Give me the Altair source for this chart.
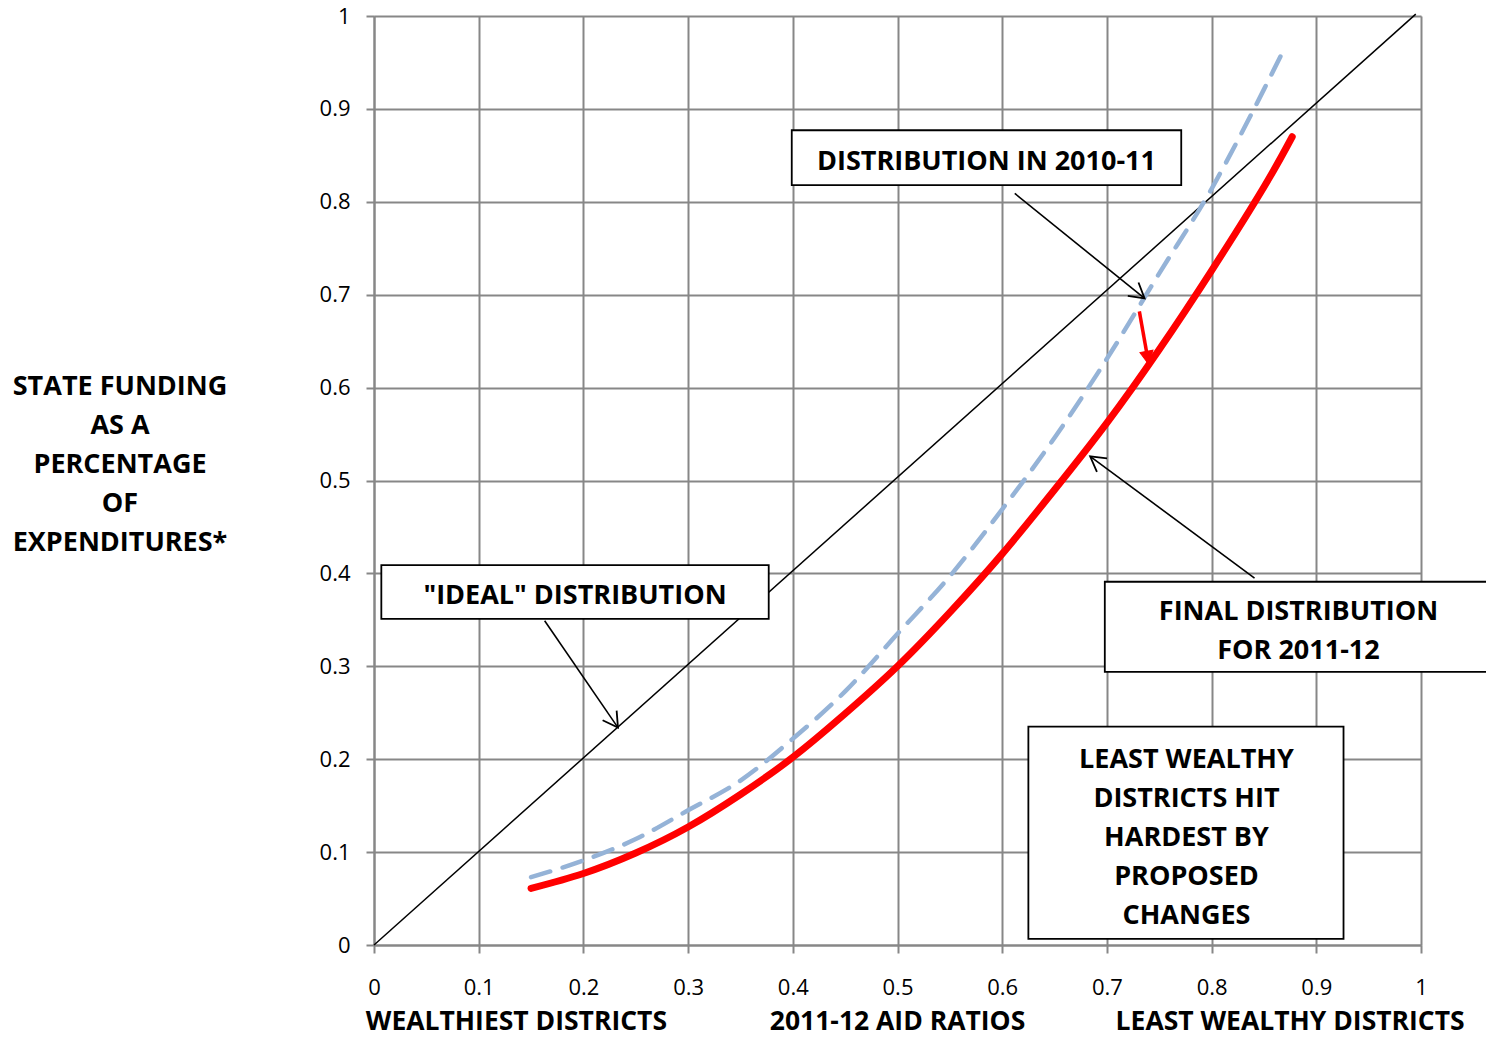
import math
import altair as alt
import pandas as pd

# ---------------- data ----------------
final_x = [0.15, 0.20, 0.25, 0.30, 0.35, 0.40, 0.45, 0.50, 0.55, 0.60, 0.65, 0.70, 0.75, 0.80, 0.85, 0.877]
final_y = [0.061, 0.077, 0.099, 0.127, 0.162, 0.202, 0.249, 0.300, 0.358, 0.421, 0.490, 0.562, 0.641, 0.726, 0.816, 0.870]

prior_x = [0.15, 0.20, 0.25, 0.30, 0.35, 0.40, 0.45, 0.50, 0.55, 0.60, 0.65, 0.70, 0.75, 0.80, 0.83, 0.85, 0.870]
prior_y = [0.073, 0.091, 0.114, 0.145, 0.177, 0.222, 0.273, 0.335, 0.397, 0.469, 0.546, 0.631, 0.723, 0.814, 0.877, 0.921, 0.966]

ideal_x = [0.0, 0.995]
ideal_y = [0.0, 1.002]

tick_values = [0, 0.1, 0.2, 0.3, 0.4, 0.5, 0.6, 0.7, 0.8, 0.9, 1]

# annotation boxes (data units)
box_x1 = [0.399, 0.007, 0.698, 0.625]
box_x2 = [0.771, 0.377, 1.080, 0.926]
box_y1 = [0.877, 0.409, 0.391, 0.235]
box_y2 = [0.818, 0.351, 0.294, 0.0065]

# annotation texts
note_text = ["DISTRIBUTION IN 2010-11", "\"IDEAL\" DISTRIBUTION",
             "FINAL DISTRIBUTION", "FOR 2011-12",
             "LEAST WEALTHY", "DISTRICTS HIT", "HARDEST BY", "PROPOSED", "CHANGES"]
note_x = [0.585, 0.192, 0.883, 0.883, 0.776, 0.776, 0.776, 0.776, 0.776]
note_y = [0.843, 0.376, 0.358, 0.316, 0.199, 0.157, 0.115, 0.073, 0.031]

# y-axis title lines and x-axis caption labels
ytitle_text = ["STATE FUNDING", "AS A", "PERCENTAGE", "OF", "EXPENDITURES*"]
ytitle_x = [-0.2426] * 5
ytitle_y = [0.601, 0.559, 0.517, 0.475, 0.433]

xcap_text = ["WEALTHIEST DISTRICTS", "2011-12 AID RATIOS", "LEAST WEALTHY DISTRICTS"]
xcap_x = [0.136, 0.500, 0.875]
xcap_y = [-0.0825, -0.0825, -0.0825]

# black pointer arrows (from -> to)
arr_x1 = [0.612, 0.163, 0.841]
arr_y1 = [0.809, 0.349, 0.395]
arr_x2 = [0.736, 0.233, 0.684]
arr_y2 = [0.696, 0.234, 0.526]

# red shift arrow
red_x1 = [0.731]
red_y1 = [0.682]
red_x2 = [0.740]
red_y2 = [0.625]

# ---------------- layout ----------------
W, H = 1047, 929
GRID = "#878787"
FONT = "Open Sans"
BOLD_SIZE = 27


def angles(x1, y1, x2, y2):
    out = []
    for a, b, c, d in zip(x1, y1, x2, y2):
        dx = (c - a) * W
        dy = -(d - b) * H  # screen y grows downwards
        out.append(math.degrees(math.atan2(dx, -dy)) % 360)
    return out


xs = alt.Scale(domain=[0, 1], nice=False, zero=False)
ys = alt.Scale(domain=[0, 1], nice=False, zero=False)

common_axis = dict(values=tick_values, grid=True, gridColor=GRID, gridWidth=2,
                   domainColor=GRID, domainWidth=2, tickColor=GRID, tickWidth=2,
                   tickSize=8, labelFont=FONT, labelFontSize=22, labelColor="black",
                   labelFlush=False, title=None,
                   labelExpr="format(datum.value, '~g')")
x_axis = alt.Axis(labelPadding=24, **common_axis)
y_axis = alt.Axis(labelPadding=16, **common_axis)

ideal_df = pd.DataFrame({"x": ideal_x, "y": ideal_y})
final_df = pd.DataFrame({"x": final_x, "y": final_y})
prior_df = pd.DataFrame({"x": prior_x, "y": prior_y})

ideal = alt.Chart(ideal_df).mark_line(color="black", strokeWidth=1.5).encode(
    x=alt.X("x:Q", scale=xs, axis=x_axis),
    y=alt.Y("y:Q", scale=ys, axis=y_axis),
)

prior = alt.Chart(prior_df).mark_line(
    color="#95B3D7", strokeWidth=4.5, strokeDash=[20, 13], strokeCap="round",
    interpolate="monotone").encode(
    x=alt.X("x:Q", scale=xs), y=alt.Y("y:Q", scale=ys))

final = alt.Chart(final_df).mark_line(
    color="#FF0000", strokeWidth=7, strokeCap="round", interpolate="natural").encode(
    x=alt.X("x:Q", scale=xs), y=alt.Y("y:Q", scale=ys))

box_df = pd.DataFrame({"x": box_x1, "x2": box_x2, "y": box_y1, "y2": box_y2})
boxes = alt.Chart(box_df).mark_rect(fill="white", stroke="black", strokeWidth=1.8).encode(
    x=alt.X("x:Q", scale=xs), x2="x2:Q", y=alt.Y("y:Q", scale=ys), y2="y2:Q")


def text_layer(texts, xv, yv, size=BOLD_SIZE):
    df = pd.DataFrame({"t": texts, "x": xv, "y": yv})
    return alt.Chart(df).mark_text(font=FONT, fontWeight="bold", fontSize=size,
                                   color="black", align="center", baseline="middle").encode(
        x=alt.X("x:Q", scale=xs), y=alt.Y("y:Q", scale=ys), text="t:N")


notes = text_layer(note_text, note_x, note_y)
ytitle = text_layer(ytitle_text, ytitle_x, ytitle_y)
xcap = text_layer(xcap_text, xcap_x, xcap_y, size=26.5)

arr_df = pd.DataFrame({"x": arr_x1, "y": arr_y1, "x2": arr_x2, "y2": arr_y2,
                       "ang": angles(arr_x1, arr_y1, arr_x2, arr_y2)})
shafts = alt.Chart(arr_df).mark_rule(color="black", strokeWidth=1.6).encode(
    x=alt.X("x:Q", scale=xs), y=alt.Y("y:Q", scale=ys), x2="x2:Q", y2="y2:Q")
heads = alt.Chart(arr_df).mark_point(
    shape="M-0.5,0.866L0,0L0.5,0.866", filled=False, stroke="black",
    strokeWidth=1.8, opacity=1, size=1156).encode(
    x=alt.X("x2:Q", scale=xs), y=alt.Y("y2:Q", scale=ys),
    angle=alt.Angle("ang:Q", scale=None))

red_df = pd.DataFrame({"x": red_x1, "y": red_y1, "x2": red_x2, "y2": red_y2,
                       "ang": angles(red_x1, red_y1, red_x2, red_y2)})
red_shaft = alt.Chart(red_df).mark_rule(color="#FF0000", strokeWidth=3.5).encode(
    x=alt.X("x:Q", scale=xs), y=alt.Y("y:Q", scale=ys), x2="x2:Q", y2="y2:Q")
red_head = alt.Chart(red_df).mark_point(
    shape="M0,0L-0.5,1L0.5,1Z", filled=True, fill="#FF0000", stroke="#FF0000",
    strokeWidth=1, opacity=1, size=700).encode(
    x=alt.X("x2:Q", scale=xs), y=alt.Y("y2:Q", scale=ys),
    angle=alt.Angle("ang:Q", scale=None))

chart = alt.layer(
    ideal, prior, final, boxes, notes, shafts, heads, red_shaft, red_head, ytitle, xcap
).properties(
    width=W, height=H,
    autosize=alt.AutoSizeParams(type="none"),
    padding={"left": 366, "top": 8, "right": 65, "bottom": 96},
).configure_view(stroke=None).configure(background="white")

chart.save("out.html", embed_options={"renderer": "svg", "actions": False})
